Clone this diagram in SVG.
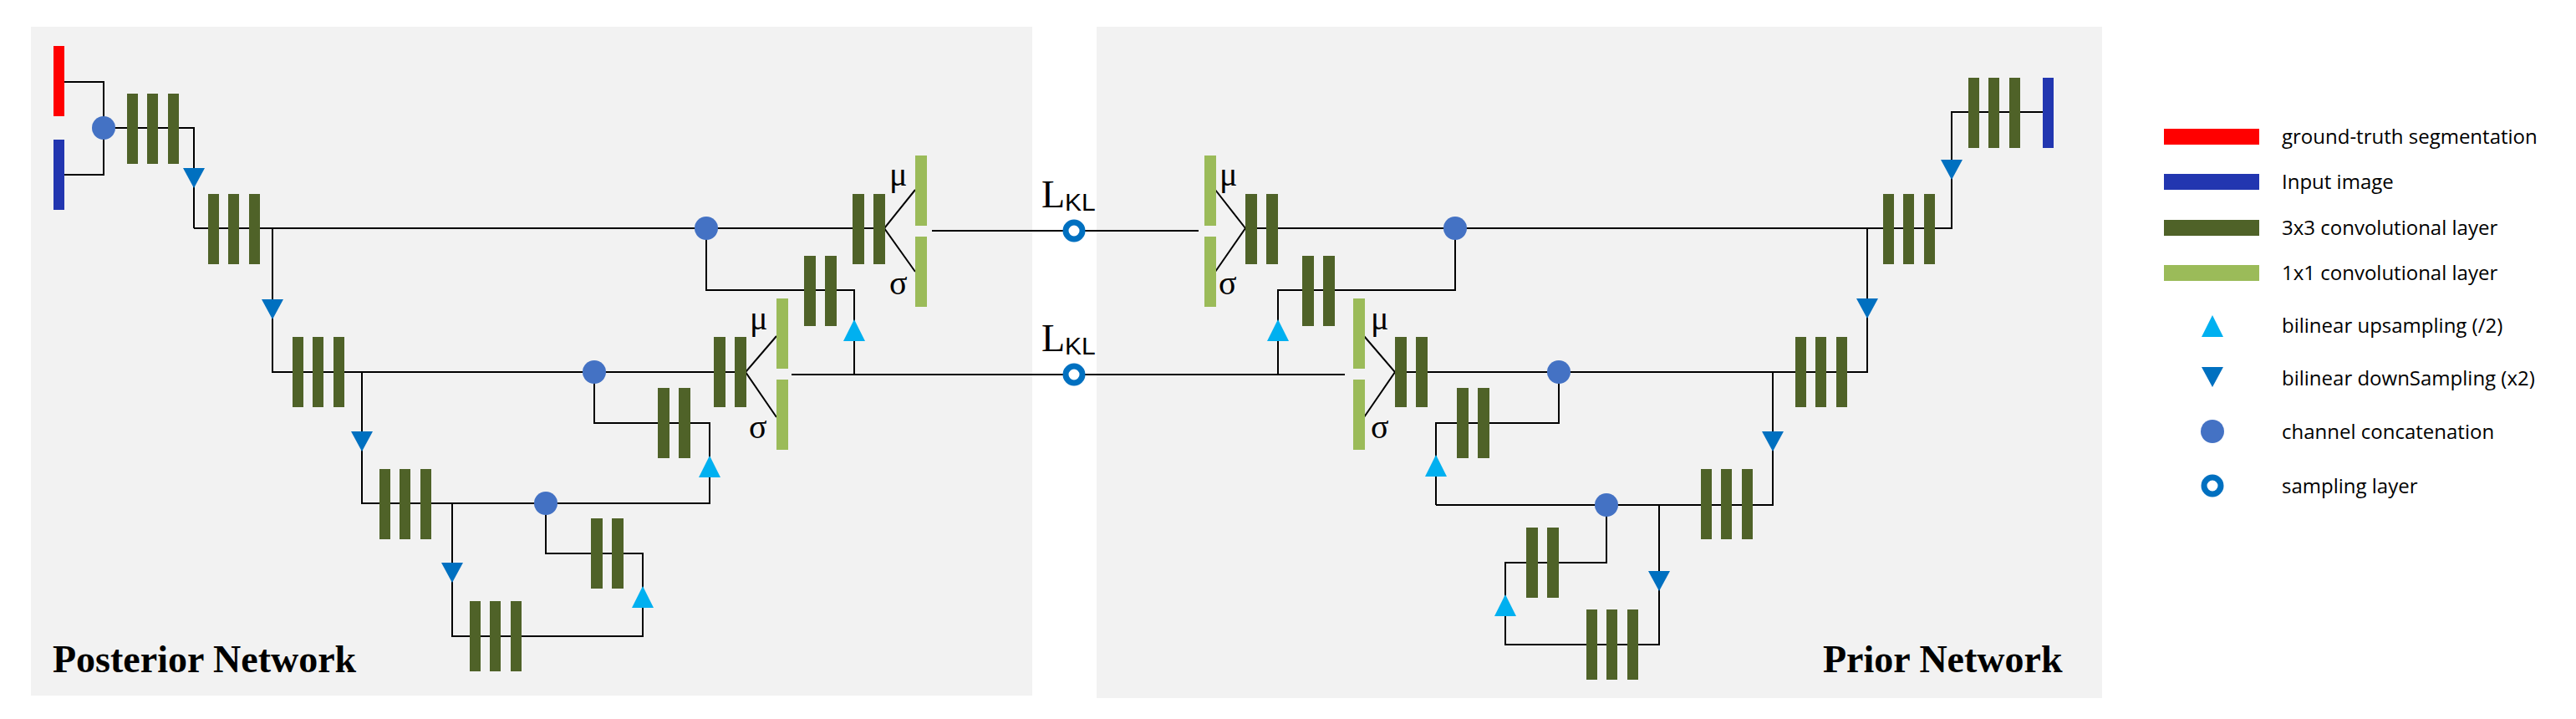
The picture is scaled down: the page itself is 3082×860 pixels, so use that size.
<svg xmlns="http://www.w3.org/2000/svg" xmlns:xlink="http://www.w3.org/1999/xlink" width="3082" height="860" viewBox="0 0 3082 860">
<style>
.bg{fill:#F2F2F2}
.c3{fill:#4F6228}
.c1{fill:#9BBB59}
.ln{fill:none;stroke:#000;stroke-width:2}
.up{fill:#00B0F0}
.dn{fill:#0070C0}
.cat{fill:#4472C4}
.smp{fill:#fff;stroke:#0070C0;stroke-width:7}
.gr{font-family:"Liberation Serif",serif;font-size:40px;fill:#000}
.kl{font-family:"Liberation Serif",serif;font-size:46px;fill:#000}
.sub{font-family:"Liberation Sans",sans-serif;font-size:30px}
.ttl{font-family:"Liberation Serif",serif;font-weight:bold;font-size:46px;fill:#000}
.lg{font-family:"Open Sans","Liberation Sans",sans-serif;font-size:24px;fill:#000}
</style>
<defs>
<path id="tdn" class="dn" d="M-13,-12 L13,-12 L0,12 Z"/>
<path id="tup" class="up" d="M0,-13 L13,13 L-13,13 Z"/>
<g id="b3"><rect x="0" y="-42" width="13" height="84"/><rect x="24" y="-42" width="13" height="84"/><rect x="49" y="-42" width="13" height="84"/></g>
<g id="b2"><rect x="0" y="-42" width="14" height="84"/><rect x="25" y="-42" width="14" height="84"/></g>
<g id="g1"><rect x="0" y="-87" width="14" height="84"/><rect x="0" y="10" width="14" height="84"/></g>
</defs>
<rect class="bg" x="37" y="32" width="1198" height="800"/>
<rect class="bg" x="1312" y="32" width="1203" height="803"/>

<g id="connectors">
<path class="ln" d="M77,98 H124 V209 H77"/>
<path class="ln" d="M124,153 H232 V273"/>
<path class="ln" d="M232,273 H1058"/>
<path class="ln" d="M1095,227 L1058,273 L1095,325"/>
<path class="ln" d="M1115,276 H1285"/>
<path class="ln" d="M326,273 V445 H892"/>
<path class="ln" d="M845,273 V347 H1022 V448"/>
<path class="ln" d="M947,448 H1285"/>
<path class="ln" d="M929,402 L892,445 L929,499"/>
<path class="ln" d="M433,445 V602 H849 V506 H711 V445"/>
<path class="ln" d="M541,602 V761 H769 V662 H653 V602"/>
<path class="ln" d="M1285,276 H1434"/>
<path class="ln" d="M1454,227 L1490,273 L1454,325"/>
<path class="ln" d="M1490,273 H2335 V134 H2444"/>
<path class="ln" d="M1741,273 V347 H1529 V448"/>
<path class="ln" d="M1285,448 H1609"/>
<path class="ln" d="M1632,402 L1669,445 L1632,499"/>
<path class="ln" d="M1669,445 H2234 V273"/>
<path class="ln" d="M1865,445 V506 H1718 V604"/>
<path class="ln" d="M1718,604 H2121 V445"/>
<path class="ln" d="M1985,604 V771 H1801 V673 H1922 V604"/>
</g>

<g id="posterior">
<rect id="gt" x="64" y="55" width="13" height="84" fill="#FF0000"/>
<rect id="img1" x="64" y="167" width="13" height="84" fill="#2236B0"/>
<circle class="cat" cx="124" cy="153" r="14"/>
<use href="#b3" class="c3" x="152" y="154"/>
<use href="#tdn" x="232" y="213"/>
<use href="#b3" class="c3" x="249" y="274"/>
<circle class="cat" cx="845" cy="273" r="14"/>
<use href="#b2" class="c3" x="1020" y="274"/>
<use href="#g1" class="c1" x="1095" y="273"/>
<text class="gr" x="1064" y="222">μ</text>
<text class="gr" x="1064" y="352">σ</text>
<use href="#tdn" x="326" y="370"/>
<use href="#b3" class="c3" x="350" y="445"/>
<circle class="cat" cx="711" cy="445" r="14"/>
<use href="#b2" class="c3" x="854" y="445"/>
<use href="#g1" class="c1" x="929" y="444"/>
<text class="gr" x="897" y="394">μ</text>
<text class="gr" x="896" y="524">σ</text>
<use href="#b2" class="c3" x="962" y="348"/>
<use href="#tup" x="1022" y="395"/>
<use href="#tdn" x="433" y="528"/>
<use href="#b3" class="c3" x="454" y="603"/>
<circle class="cat" cx="653" cy="602" r="14"/>
<use href="#b2" class="c3" x="787" y="506"/>
<use href="#tup" x="849" y="558"/>
<use href="#tdn" x="541" y="685"/>
<use href="#b3" class="c3" x="562" y="761"/>
<use href="#b2" class="c3" x="707" y="662"/>
<use href="#tup" x="769" y="714"/>
<text class="ttl" x="63" y="804">Posterior Network</text>
</g>

<g id="sampling">
<circle class="smp" cx="1285" cy="276" r="10"/>
<circle class="smp" cx="1285" cy="448" r="10"/>
<text class="kl" x="1246" y="248">L<tspan class="sub" dy="4">KL</tspan></text>
<text class="kl" x="1246" y="420">L<tspan class="sub" dy="4">KL</tspan></text>
</g>

<g id="prior">
<use href="#g1" class="c1" x="1441" y="273"/>
<text class="gr" x="1459" y="222">μ</text>
<text class="gr" x="1458" y="352">σ</text>
<use href="#b2" class="c3" x="1490" y="274"/>
<circle class="cat" cx="1741" cy="273" r="14"/>
<use href="#b3" class="c3" x="2253" y="274"/>
<use href="#tdn" x="2335" y="203"/>
<use href="#b3" class="c3" x="2355" y="135"/>
<rect id="img2" x="2444" y="93" width="13" height="84" fill="#2236B0"/>
<use href="#b2" class="c3" x="1558" y="348"/>
<use href="#tup" x="1529" y="395"/>
<use href="#g1" class="c1" x="1619" y="444"/>
<text class="gr" x="1640" y="394">μ</text>
<text class="gr" x="1640" y="524">σ</text>
<use href="#b2" class="c3" x="1669" y="445"/>
<circle class="cat" cx="1865" cy="445" r="14"/>
<use href="#b3" class="c3" x="2148" y="445"/>
<use href="#tdn" x="2234" y="369"/>
<use href="#b2" class="c3" x="1743" y="506"/>
<use href="#tup" x="1718" y="557"/>
<circle class="cat" cx="1922" cy="604" r="14"/>
<use href="#b3" class="c3" x="2035" y="603"/>
<use href="#tdn" x="2121" y="528"/>
<use href="#b2" class="c3" x="1826" y="673"/>
<use href="#tup" x="1801" y="724"/>
<use href="#tdn" x="1985" y="695"/>
<use href="#b3" class="c3" x="1898" y="771"/>
<text class="ttl" x="2181" y="804">Prior Network</text>
</g>

<g id="legend">
<rect x="2589" y="154" width="114" height="19" fill="#FF0000"/>
<text class="lg" x="2730" y="172">ground-truth segmentation</text>
<rect x="2589" y="208" width="114" height="19" fill="#2236B0"/>
<text class="lg" x="2730" y="226">Input image</text>
<rect x="2589" y="263" width="114" height="19" fill="#4F6228"/>
<text class="lg" x="2730" y="281">3x3 convolutional layer</text>
<rect x="2589" y="317" width="114" height="19" fill="#9BBB59"/>
<text class="lg" x="2730" y="335">1x1 convolutional layer</text>
<use href="#tup" x="2647" y="390"/>
<text class="lg" x="2730" y="398">bilinear upsampling (/2)</text>
<use href="#tdn" x="2647" y="451"/>
<text class="lg" x="2730" y="461">bilinear downSampling (x2)</text>
<circle class="cat" cx="2647" cy="516" r="14"/>
<text class="lg" x="2730" y="525">channel concatenation</text>
<circle class="smp" cx="2647" cy="581" r="10"/>
<text class="lg" x="2730" y="590">sampling layer</text>
</g>
</svg>
